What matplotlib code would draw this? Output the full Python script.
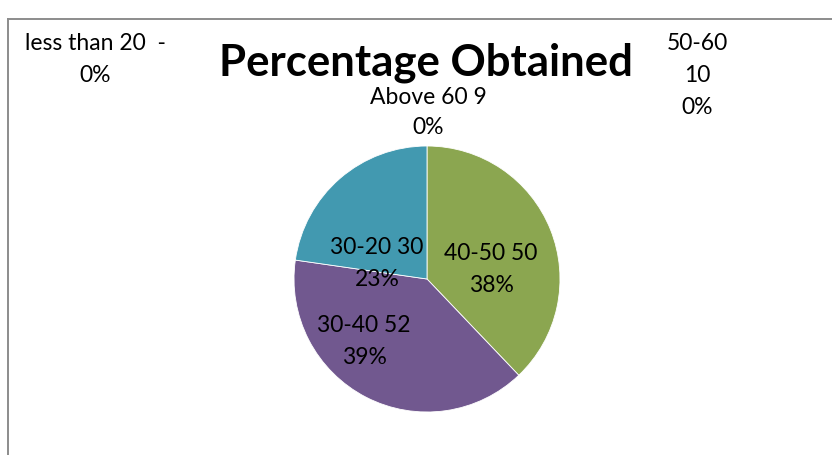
import matplotlib.pyplot as plt

plt.rcParams['font.family'] = ['Lato', 'DejaVu Sans']

# slices drawn clockwise from 12 o'clock
categories = ["40-50", "30-40", "30-20"]
values = [50, 52, 30]
pct_labels = ["38%", "39%", "23%"]
colors = ["#8BA650", "#71588F", "#4299B0"]

# categories with no visible slice
empty_cats = ["less than 20", "50-60", "Above 60"]
empty_vals = ["-", "10", "9"]
empty_pct = ["0%", "0%", "0%"]

W, H = 832, 456
fig = plt.figure(figsize=(W / 100, H / 100), dpi=100)
ax = fig.add_axes([0, 0, 1, 1])

wedges, _ = ax.pie(values, colors=colors, startangle=90, counterclock=False,
                   center=(427, H - 280), radius=133,
                   wedgeprops=dict(edgecolor="white", linewidth=0.6))
ax.set_xlim(0, W)
ax.set_ylim(0, H)
ax.set_aspect("equal")
ax.axis("off")

# chart border (only top and left visible)
ax.plot([8, 8], [0, H - 20], color="#8c8c8c", lw=1.4)
ax.plot([8, W], [H - 20, H - 20], color="#8c8c8c", lw=1.4)

ax.text(426, H - 63, "Percentage Obtained", ha="center", va="center",
        fontsize=31.5, fontweight="bold")

fs = 16.5
# labels inside the slices
slice_pos = [(491, 254), (364, 326), (377, 247)]
for (x, y), c, v, p in zip(slice_pos, categories, values, pct_labels):
    ax.text(x, H - y, f"{c} {v}", ha="center", va="center", fontsize=fs)
    ax.text(x, H - y - 32, p, ha="center", va="center", fontsize=fs)

# labels of empty categories
ax.text(95, H - 43, f"{empty_cats[0]}  {empty_vals[0]}", ha="center", va="center", fontsize=fs)
ax.text(95, H - 75, empty_pct[0], ha="center", va="center", fontsize=fs)

ax.text(697, H - 43, empty_cats[1], ha="center", va="center", fontsize=fs)
ax.text(697, H - 75, empty_vals[1], ha="center", va="center", fontsize=fs)
ax.text(697, H - 107, empty_pct[1], ha="center", va="center", fontsize=fs)

ax.text(428, H - 97, f"{empty_cats[2]} {empty_vals[2]}", ha="center", va="center", fontsize=fs)
ax.text(428, H - 128, empty_pct[2], ha="center", va="center", fontsize=fs)

fig.savefig("out.png", dpi=100)
